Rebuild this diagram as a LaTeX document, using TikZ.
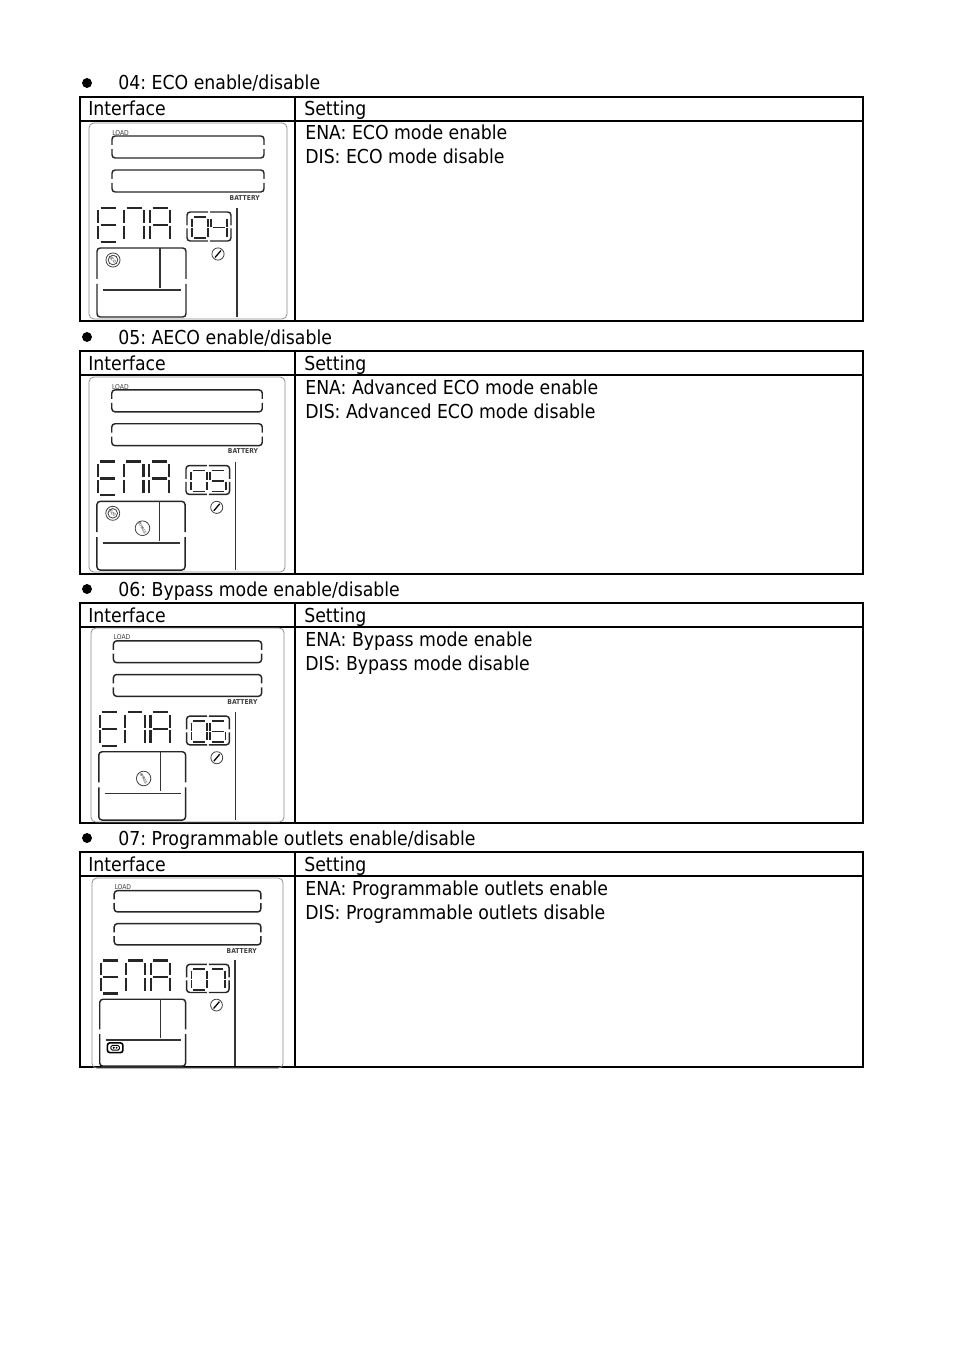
\documentclass[tikz,border=0pt]{standalone}
\usepackage{fontspec}
\setmainfont{DejaVu Sans Condensed}
\usetikzlibrary{positioning}

% segments of one 7-segment cell, 20 wide and 34 high
\def\sga{(2.5,0)--(17.5,0)}
\def\sgb{(20,2.5)--(20,15.5)}
\def\sgc{(20,18.5)--(20,31.5)}
\def\sgd{(2.5,34)--(17.5,34)}
\def\sge{(0,18.5)--(0,31.5)}
\def\sgf{(0,2.5)--(0,15.5)}
\def\sgg{(2.5,17)--(17.5,17)}
\newcommand\sevenseg[3][]{%
  \begin{scope}[shift={#2},#1]
    \foreach \s in {#3} {\draw[seg] \csname sg\s\endcsname;}
  \end{scope}}

% icons
\newcommand\ecoicon{%
  \draw[icon] (24,137) circle [radius=4.4pt];
  \draw[icon] (24,137) circle [radius=3pt];
  \node[rotate=-50, font=\fontsize{2.4}{3}\selectfont] at (24,137) {ECO};}
\newcommand\bpsicon{%
  \draw[icon] (54,152) circle [radius=4.6pt];
  \node[rotate=-60, font=\fontsize{2.2}{3}\selectfont] at (54,152) {BYPASS};}
\newcommand\outicon{%
  \draw[line width=1pt, rounded corners=1.5pt] (16,170) rectangle (32,180);
  \draw[line width=0.6pt, rounded corners=1pt] (19.5,172.5) rectangle (28.5,177.5);
  \fill (22.5,175) circle [radius=0.7pt] (25.5,175) circle [radius=0.7pt];}

% the LCD panel, local size 198 x 196
\newcommand\lcd[6]{%
  \begin{scope}[shift={#2}, xscale=#3, yscale=#4]
    \draw[panel] (0,0) rectangle (198,196);
    \node[tiny, anchor=south west] (#1load) at (23,12.5) {LOAD};
    \node[tiny, font=\fontsize{4.2}{5}\selectfont\bfseries, anchor=north east] (#1batt) at (171,72) {BATTERY};
    \foreach \y in {13,47} {
      \draw[bar] (23,\y+9) -- (23,\y) -- (175,\y) -- (175,\y+9);
      \draw[bar] (23,\y+13) -- (23,\y+22) -- (175,\y+22) -- (175,\y+13);}
    % E N A
    \sevenseg{(9,85)}{a,d,e,f,g}
    \sevenseg{(35,85)}{a,b,c,e,f}
    \sevenseg{(61,85)}{a,b,c,e,f,g}
    % number box
    \draw[bar] (119,89) -- (98,89) -- (98,102.5);
    \draw[bar] (98,105.5) -- (98,118) -- (119,118);
    \draw[bar] (121,89) -- (142,89) -- (142,102.5);
    \draw[bar] (142,105.5) -- (142,118) -- (121,118);
    \sevenseg[xscale=0.8, yscale=0.62, seg/.append style={line width=1.1pt}]{(103,94)}{a,b,c,d,e,f}
    \sevenseg[xscale=0.8, yscale=0.62, seg/.append style={line width=1.1pt}]{(122,94)}{#5}
    % wrench
    \draw[icon] (129,131) circle [radius=3.8pt];
    \draw[line width=0.8pt] (126,134.5) -- (132,127.5);
    \draw[dark] (148,85) -- (148,194);
    % lower box
    \draw[bar] (8,156) -- (8,125) -- (97,125) -- (97,156);
    \draw[bar] (8,161) -- (8,194) -- (97,194) -- (97,161);
    \draw[dark] (71,125) -- (71,165);
    \draw[dark] (14,167) -- (92,167);
    #6
  \end{scope}}

\tikzset{
  grid/.style={line width=0.8pt},
  txt/.style={anchor=base west, inner sep=0, font=\fontsize{12}{14}\selectfont},
  tiny/.style={inner sep=0, font=\fontsize{4.2}{5}\selectfont, black!75},
  panel/.style={black!45, line width=0.5pt, rounded corners=3pt},
  bar/.style={black!85, line width=0.9pt, rounded corners=2pt},
  seg/.style={black!85, line width=1.35pt},
  dark/.style={black!80, line width=0.9pt},
  icon/.style={black!75, line width=0.5pt},
}

\begin{document}
\frenchspacing
\begin{tikzpicture}[x=0.6237pt, y=-0.6237pt]
  \useasboundingbox (0,0) rectangle (954,1350);

  \foreach \i/\tp/\bt/\nm/\short/\long in {1/97/321/04/ECO/ECO mode,
      2/351/574/05/AECO/Advanced ECO mode, 3/603/823/06/Bypass mode/Bypass mode,
      4/852/1067/07/Programmable outlets/Programmable outlets} {
    \draw[grid] (80,\tp) rectangle (863,\bt);
    \draw[grid] (80,\tp+24) -- (863,\tp+24);
    \draw[grid] (295,\tp) -- (295,\bt);
    \fill (87,\tp-14) circle [radius=3.1pt];
    \node[txt] (title\i) at (118,\tp-7) {\nm: \short{} enable/disable};
    \node[txt] (iface\i) at (88,\tp+19) {Interface};
    \node[txt] (sett\i) at (304,\tp+19) {Setting};
    \node[txt] (ena\i) at (305,\tp+43) {ENA: \long{} enable};
    \node[txt] (dis\i) at (305,\tp+67) {DIS: \long{} disable};
  }

  \lcd{p1}{(89,123)}{1}{1}{b,c,f,g}{\ecoicon}
  \lcd{p2}{(89,377)}{0.99}{0.995}{a,c,d,f,g}{\ecoicon\bpsicon}
  \lcd{p3}{(91,628)}{0.975}{0.99}{a,c,d,e,f,g}{\bpsicon}
  \lcd{p4}{(92,878)}{0.965}{0.97}{a,b,c}{\outicon}
\end{tikzpicture}
\end{document}
